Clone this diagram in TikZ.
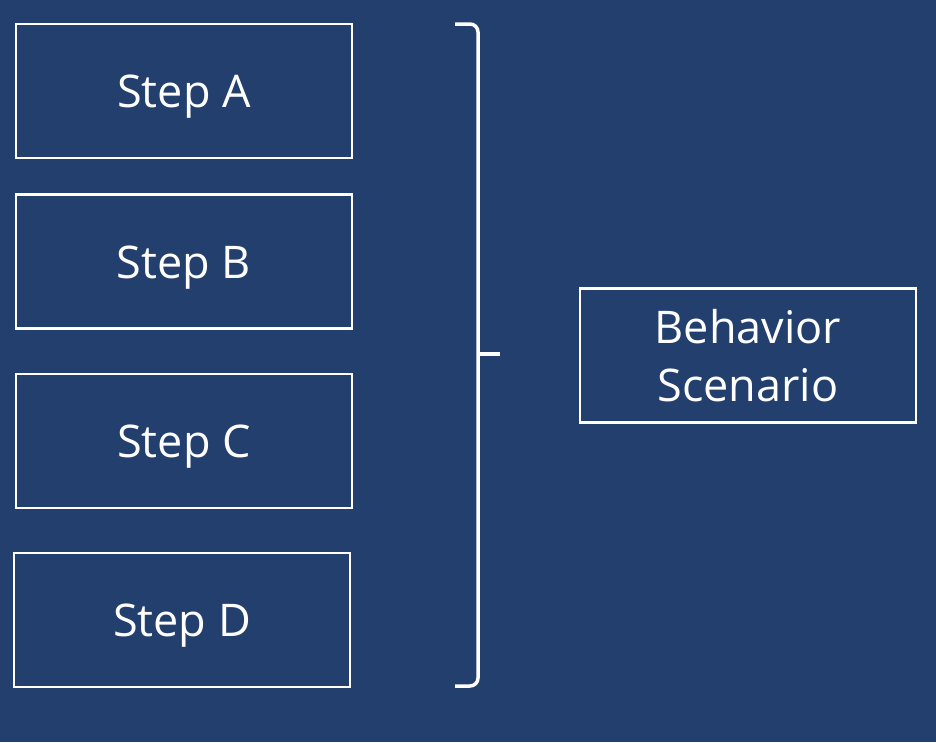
\documentclass[tikz,border=0pt]{standalone}
\usepackage{fontspec}
\setmainfont{Open Sans}
\usepackage{tikz}
\usepackage{xcolor}
\definecolor{bgblue}{RGB}{35,63,110}
\tikzset{
    plain-box/.style = {draw=white, line width=2.5pt, rectangle, minimum width=336pt, minimum height=134pt, inner sep=0pt, text=white, font=\fontsize{45}{58}\selectfont, align=center},
    step-box/.style = {plain-box, text height=43pt, text depth=10pt},
    brace-line/.style = {draw=white, line width=3.5pt, rounded corners=8pt},
}

\begin{document}
\begin{tikzpicture}[x=1pt, y=-1pt]
\fill[bgblue] (0,0) rectangle (936,742);
\node [step-box] (stepa) at (184,91) {Step A};
\node [step-box] (stepb) at (184,261.5) {Step B};
\node [step-box] (stepc) at (184,441) {Step C};
\node [step-box] (stepd) at (182,620) {Step D};
\node [plain-box] (scenario) at (748,355.5) {Behavior\\Scenario};
% bracket
\draw [brace-line] (455,24) -- (478,24) -- (478,686) -- (455,686);
\draw [white, line width=3.5pt] (478,354) -- (500,354);
\end{tikzpicture}
\end{document}
